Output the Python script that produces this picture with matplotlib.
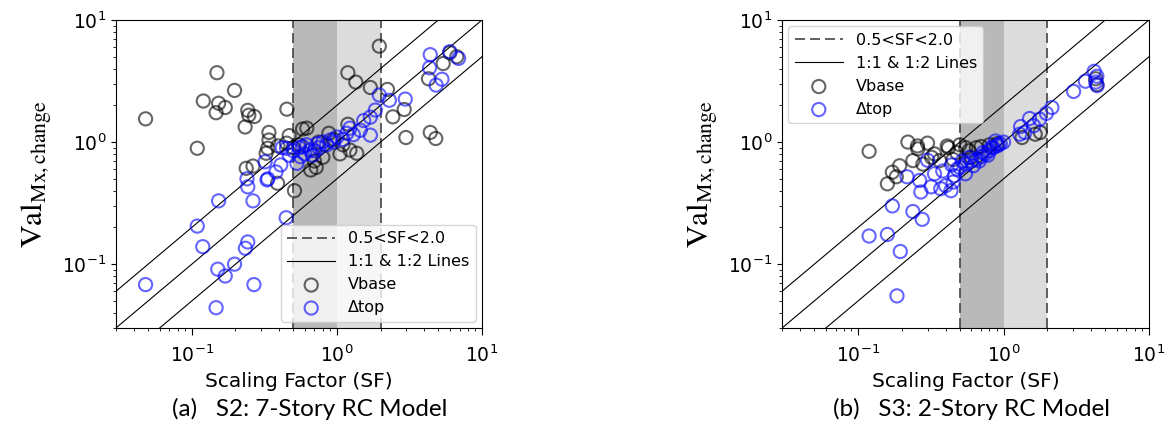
import numpy as np
import matplotlib.pyplot as plt

plt.rcParams["mathtext.fontset"] = "stix"

# S2: 7-story RC model
s2_vbase_sf = [0.048, 0.149, 0.197, 0.12, 0.153, 0.17, 0.147, 0.243, 0.247, 0.27,
               0.233, 0.109, 0.452, 0.34, 0.34, 0.334, 0.392, 0.469, 0.58, 0.237,
               0.264, 0.325, 0.39, 0.51, 0.66, 0.88, 1.05, 1.37, 1.96, 1.19,
               1.35, 1.7, 2.23, 5.4, 4.28, 6.0, 2.43, 2.91, 2.99, 4.4,
               4.8, 1.19, 1.23, 6.7, 0.55, 0.75, 0.8, 0.95, 1.1, 0.7,
               0.62, 0.72, 0.5, 0.45]
s2_vbase_val = [1.55, 3.7, 2.65, 2.17, 2.08, 1.92, 1.74, 1.82, 1.66, 1.62,
                1.33, 0.89, 1.86, 1.2, 1.04, 0.89, 0.93, 1.13, 1.28, 0.61,
                0.636, 0.81, 0.46, 0.4, 0.59, 1.18, 0.8, 0.81, 6.1, 3.7,
                3.1, 2.8, 2.7, 4.4, 3.3, 5.4, 1.61, 1.85, 1.09, 1.2,
                1.07, 1.4, 0.86, 5.0, 0.95, 1.0, 0.75, 1.05, 0.95, 0.7,
                1.3, 0.62, 0.9, 0.98]
s2_dtop_sf = [4.4, 6.0, 6.9, 4.35, 5.3, 4.83, 1.96, 2.3, 2.96, 1.84,
              1.53, 1.7, 1.23, 1.7, 1.45, 1.17, 1.0, 0.9, 0.73, 0.65,
              0.58, 0.56, 0.53, 0.45, 0.41, 0.38, 0.33, 0.24, 0.243, 0.32,
              0.153, 0.264, 0.109, 0.119, 0.243, 0.234, 0.197, 0.151, 0.17, 0.048,
              0.268, 0.147, 0.447, 0.334, 0.6, 0.7, 0.75, 0.85, 0.95, 1.1,
              0.5, 0.55, 0.62, 0.8, 1.3, 0.68, 0.47, 0.42]
s2_dtop_val = [5.2, 5.5, 4.85, 4.06, 3.27, 2.93, 2.43, 2.2, 2.25, 1.83,
               1.5, 1.14, 1.3, 1.6, 1.25, 1.18, 1.1, 1.04, 0.97, 0.86,
               0.92, 0.76, 0.67, 0.89, 0.65, 0.57, 0.49, 0.5, 0.43, 0.69,
               0.33, 0.33, 0.205, 0.139, 0.152, 0.135, 0.1, 0.091, 0.08, 0.068,
               0.068, 0.044, 0.24, 0.5, 0.8, 0.85, 0.9, 0.95, 1.0, 1.05,
               0.85, 0.9, 0.95, 1.0, 1.15, 0.78, 0.78, 0.9]

# S3: 2-story RC model
s3_vbase_sf = [0.119, 0.22, 0.257, 0.3, 0.335, 0.418, 0.476, 0.193, 0.172, 0.183,
               0.159, 0.238, 0.279, 0.363, 0.58, 0.256, 0.41, 0.5, 0.55, 0.65,
               0.7, 0.8, 0.9, 4.38, 4.3, 1.79, 1.34, 1.65, 0.6, 0.45, 0.32]
s3_vbase_val = [0.84, 1.0, 0.88, 0.98, 0.8, 0.9, 0.82, 0.64, 0.567, 0.52,
                0.455, 0.705, 0.66, 0.705, 0.85, 0.93, 0.93, 0.95, 0.9, 0.9,
                0.92, 0.95, 0.97, 2.96, 3.3, 1.2, 1.09, 1.16, 0.75, 0.72, 0.75]
s3_dtop_sf = [0.217, 0.172, 0.238, 0.276, 0.119, 0.159, 0.195, 0.185, 0.3, 0.265,
              0.27, 0.335, 0.37, 0.435, 0.45, 0.547, 0.382, 0.318, 0.4, 0.46,
              4.2, 3.65, 3.03, 4.38, 2.15, 1.97, 1.77, 1.51, 1.31, 1.29,
              1.61, 1.0, 0.88, 0.5, 0.55, 0.6, 0.65, 0.7, 0.75, 0.8,
              0.85, 0.9, 0.95, 0.52, 0.58, 0.62, 0.68, 0.72, 0.78, 0.82,
              0.92, 0.48, 0.44, 1.4, 4.3, 4.4]
s3_dtop_val = [0.52, 0.3, 0.27, 0.233, 0.17, 0.175, 0.127, 0.055, 0.71, 0.485,
               0.39, 0.55, 0.415, 0.4, 0.47, 0.55, 0.58, 0.43, 0.44, 0.53,
               3.8, 3.15, 2.6, 3.46, 1.92, 1.72, 1.54, 1.56, 1.34, 1.16,
               1.36, 1.0, 1.02, 0.62, 0.66, 0.7, 0.72, 0.76, 0.8, 0.85,
               0.9, 0.93, 0.97, 0.7, 0.75, 0.64, 0.7, 0.82, 0.78, 0.9,
               0.95, 0.6, 0.65, 1.2, 3.1, 2.9]

captions = ["(a)   S2: 7-Story RC Model", "(b)   S3: 2-Story RC Model"]


def draw_panel(ax, vb_x, vb_y, dt_x, dt_y, legend_loc):
    ax.axvspan(0.5, 1.0, color="#b9b9b9", lw=0, zorder=0)
    ax.axvspan(1.0, 2.0, color="#dcdcdc", lw=0, zorder=0)
    ax.axvline(0.5, color="#444444", ls="--", lw=1.2, dashes=(6, 3),
               label="0.5<SF<2.0", zorder=1)
    ax.axvline(2.0, color="#444444", ls="--", lw=1.2, dashes=(6, 3), zorder=1)

    xx = np.array([0.01, 100])
    ax.plot(xx, xx, color="k", lw=0.8, label="1:1 & 1:2 Lines", zorder=1)
    ax.plot(xx, 2 * xx, color="k", lw=0.8, zorder=1)
    ax.plot(xx, 0.5 * xx, color="k", lw=0.8, zorder=1)

    ax.scatter(vb_x, vb_y, s=90, facecolors="none", edgecolors="k",
               linewidths=1.5, alpha=0.6, label="Vbase", zorder=2)
    ax.scatter(dt_x, dt_y, s=90, facecolors="none", edgecolors="blue",
               linewidths=1.5, alpha=0.6, label="\u0394top", zorder=3)

    ax.set_xscale("log")
    ax.set_yscale("log")
    ax.set_xlim(0.03, 10)
    ax.set_ylim(0.03, 10)
    ax.tick_params(labelsize=13.5)
    ax.tick_params(axis="x", which="major", length=5, pad=7)
    ax.set_xlabel("Scaling Factor (SF)", fontsize=14.5, labelpad=4)
    ax.set_ylabel(r"$\mathrm{Val}_{\mathrm{Mx,change}}$", fontsize=22.5,
                  labelpad=6)
    ax.legend(loc=legend_loc, fontsize=11.5, handlelength=3, borderaxespad=0.4)


fig = plt.figure(figsize=(11.69, 4.21), dpi=100)
ax1 = fig.add_axes([0.0992, 0.2209, 0.3131, 0.7316])
ax2 = fig.add_axes([0.669, 0.2209, 0.3139, 0.7316])

draw_panel(ax1, s2_vbase_sf, s2_vbase_val, s2_dtop_sf, s2_dtop_val, "lower right")
draw_panel(ax2, s3_vbase_sf, s3_vbase_val, s3_dtop_sf, s3_dtop_val, "upper left")

fig.text(0.147, 0.012, captions[0], fontsize=17.5, family="Lato")
fig.text(0.713, 0.012, captions[1], fontsize=17.5, family="Lato")

fig.savefig("out.png", dpi=100)
